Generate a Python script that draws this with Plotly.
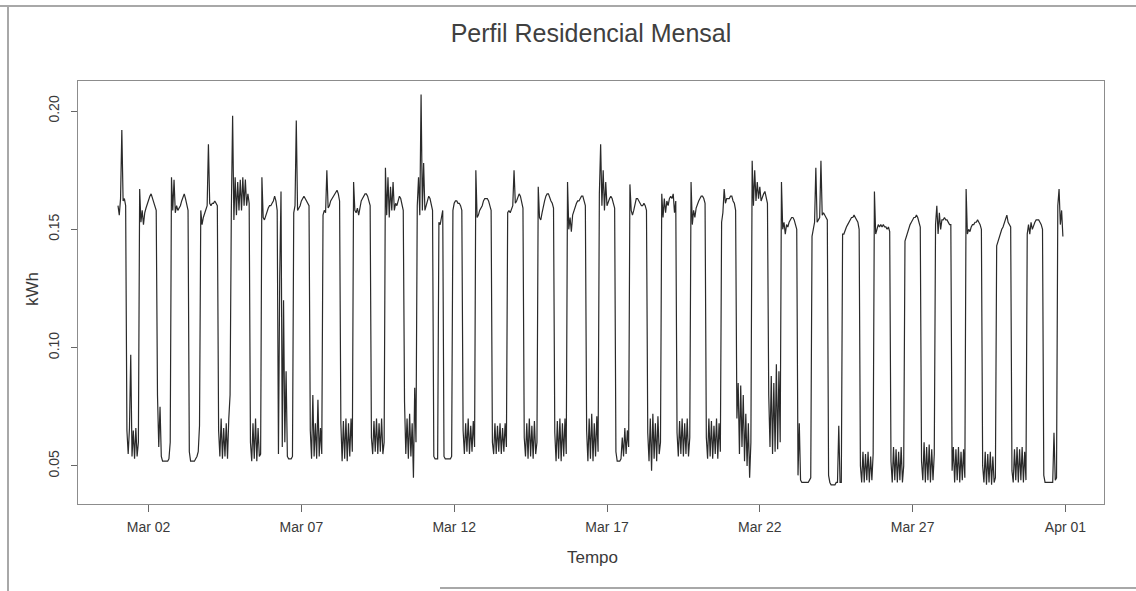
import pandas as pd
import plotly.graph_objects as go

# Hourly readings (kWh), one list per day
mar01 = [0.160,0.156,0.163,0.192,0.162,0.163,0.160,0.065,0.055,0.066,0.097,0.054,0.065,0.053,0.066,0.054,0.060,0.167,0.153,0.158,0.152,0.157,0.159,0.161]
mar02 = [0.162,0.164,0.165,0.163,0.161,0.160,0.158,0.080,0.058,0.075,0.054,0.052,0.052,0.052,0.052,0.052,0.053,0.060,0.172,0.158,0.171,0.157,0.160,0.158]
mar03 = [0.159,0.160,0.162,0.164,0.165,0.163,0.161,0.158,0.056,0.052,0.052,0.052,0.052,0.053,0.054,0.056,0.067,0.158,0.152,0.155,0.157,0.158,0.160,0.186]
mar04 = [0.161,0.160,0.161,0.161,0.162,0.161,0.160,0.065,0.054,0.070,0.053,0.066,0.054,0.068,0.053,0.070,0.080,0.158,0.198,0.154,0.172,0.156,0.170,0.158]
mar05 = [0.171,0.158,0.172,0.160,0.171,0.160,0.165,0.161,0.060,0.052,0.068,0.053,0.070,0.052,0.066,0.054,0.055,0.172,0.155,0.154,0.156,0.157,0.159,0.160]
mar06 = [0.160,0.161,0.162,0.164,0.162,0.158,0.055,0.130,0.166,0.058,0.120,0.060,0.090,0.054,0.053,0.053,0.053,0.054,0.157,0.160,0.196,0.158,0.159,0.160]
mar07 = [0.162,0.163,0.164,0.163,0.162,0.161,0.160,0.065,0.053,0.080,0.054,0.068,0.053,0.078,0.054,0.066,0.055,0.156,0.158,0.157,0.175,0.159,0.160,0.162]
mar08 = [0.163,0.164,0.165,0.166,0.1665,0.165,0.162,0.068,0.052,0.069,0.053,0.070,0.052,0.068,0.054,0.070,0.056,0.170,0.158,0.157,0.159,0.156,0.160,0.162]
mar09 = [0.163,0.164,0.165,0.165,0.164,0.162,0.160,0.062,0.055,0.069,0.056,0.070,0.055,0.068,0.056,0.070,0.055,0.060,0.176,0.156,0.172,0.155,0.168,0.158]
mar10 = [0.170,0.158,0.161,0.160,0.162,0.164,0.163,0.160,0.158,0.077,0.055,0.070,0.053,0.072,0.054,0.068,0.045,0.083,0.060,0.160,0.172,0.156,0.207,0.158]
mar11 = [0.178,0.158,0.160,0.162,0.164,0.163,0.161,0.158,0.054,0.053,0.053,0.053,0.153,0.152,0.155,0.158,0.054,0.053,0.053,0.053,0.053,0.053,0.054,0.158]
mar12 = [0.161,0.162,0.162,0.161,0.161,0.160,0.158,0.065,0.055,0.068,0.056,0.070,0.055,0.067,0.056,0.069,0.058,0.175,0.155,0.156,0.158,0.159,0.160,0.162]
mar13 = [0.163,0.163,0.163,0.162,0.160,0.158,0.060,0.055,0.068,0.055,0.067,0.056,0.068,0.055,0.066,0.056,0.068,0.058,0.157,0.158,0.157,0.159,0.160,0.175]
mar14 = [0.161,0.162,0.164,0.165,0.164,0.162,0.159,0.062,0.054,0.068,0.053,0.070,0.054,0.067,0.053,0.069,0.055,0.060,0.168,0.155,0.154,0.157,0.160,0.162]
mar15 = [0.164,0.165,0.165,0.163,0.162,0.161,0.159,0.064,0.052,0.069,0.053,0.070,0.052,0.068,0.054,0.070,0.055,0.170,0.150,0.155,0.149,0.156,0.158,0.160]
mar16 = [0.161,0.162,0.162,0.163,0.164,0.164,0.162,0.160,0.065,0.052,0.070,0.053,0.072,0.052,0.068,0.054,0.071,0.056,0.165,0.186,0.160,0.175,0.158,0.170]
mar17 = [0.160,0.162,0.163,0.164,0.163,0.161,0.159,0.056,0.052,0.052,0.052,0.053,0.062,0.054,0.066,0.055,0.065,0.058,0.169,0.158,0.156,0.158,0.161,0.163]
mar18 = [0.163,0.162,0.161,0.160,0.160,0.161,0.160,0.158,0.064,0.052,0.070,0.048,0.072,0.053,0.068,0.052,0.071,0.055,0.060,0.165,0.155,0.163,0.157,0.162]
mar19 = [0.160,0.163,0.164,0.163,0.165,0.157,0.162,0.064,0.054,0.069,0.055,0.070,0.054,0.068,0.055,0.070,0.054,0.062,0.170,0.152,0.158,0.155,0.159,0.161]
mar20 = [0.162,0.163,0.164,0.164,0.163,0.161,0.062,0.053,0.070,0.054,0.069,0.053,0.067,0.055,0.070,0.053,0.068,0.056,0.153,0.157,0.167,0.161,0.163,0.163]
mar21 = [0.163,0.164,0.164,0.162,0.161,0.158,0.070,0.085,0.055,0.084,0.058,0.080,0.052,0.072,0.050,0.068,0.045,0.060,0.179,0.160,0.175,0.162,0.170,0.163]
mar22 = [0.168,0.162,0.164,0.165,0.166,0.164,0.161,0.080,0.058,0.088,0.055,0.085,0.056,0.093,0.057,0.090,0.060,0.170,0.150,0.153,0.148,0.152,0.151,0.153]
mar23 = [0.154,0.155,0.155,0.154,0.152,0.150,0.046,0.068,0.044,0.043,0.043,0.043,0.043,0.043,0.043,0.044,0.045,0.147,0.150,0.153,0.176,0.153,0.154,0.155]
mar24 = [0.179,0.156,0.157,0.156,0.155,0.154,0.046,0.043,0.042,0.042,0.042,0.042,0.043,0.043,0.067,0.043,0.043,0.148,0.148,0.150,0.151,0.152,0.153,0.154]
mar25 = [0.155,0.155,0.156,0.155,0.154,0.153,0.150,0.050,0.043,0.056,0.043,0.055,0.044,0.056,0.043,0.054,0.044,0.055,0.166,0.148,0.150,0.152,0.151,0.152]
mar26 = [0.151,0.152,0.151,0.151,0.150,0.151,0.149,0.052,0.043,0.058,0.044,0.057,0.043,0.056,0.044,0.058,0.043,0.050,0.145,0.147,0.148,0.150,0.152,0.153]
mar27 = [0.154,0.155,0.155,0.156,0.155,0.153,0.151,0.052,0.044,0.060,0.043,0.058,0.044,0.059,0.043,0.057,0.044,0.055,0.152,0.160,0.148,0.157,0.150,0.154]
mar28 = [0.154,0.155,0.154,0.154,0.153,0.152,0.152,0.048,0.058,0.043,0.057,0.044,0.058,0.043,0.056,0.044,0.057,0.045,0.167,0.148,0.150,0.149,0.151,0.152]
mar29 = [0.152,0.153,0.153,0.154,0.153,0.152,0.150,0.050,0.043,0.056,0.042,0.055,0.043,0.056,0.042,0.054,0.043,0.045,0.143,0.145,0.147,0.148,0.150,0.151]
mar30 = [0.153,0.154,0.156,0.153,0.152,0.151,0.048,0.043,0.057,0.044,0.058,0.043,0.057,0.044,0.058,0.043,0.056,0.044,0.148,0.152,0.148,0.153,0.150,0.152]
mar31 = [0.153,0.154,0.154,0.154,0.153,0.152,0.150,0.046,0.043,0.043,0.043,0.043,0.043,0.043,0.043,0.064,0.044,0.045,0.160,0.167,0.152,0.158,0.147]

days = [mar01, mar02, mar03, mar04, mar05, mar06, mar07, mar08, mar09, mar10,
        mar11, mar12, mar13, mar14, mar15, mar16, mar17, mar18, mar19, mar20,
        mar21, mar22, mar23, mar24, mar25, mar26, mar27, mar28, mar29, mar30, mar31]

# Tick labels
tick_dates = ["2015-03-02", "2015-03-07", "2015-03-12", "2015-03-17",
              "2015-03-22", "2015-03-27", "2015-04-01"]
tick_labels = ["Mar 02", "Mar 07", "Mar 12", "Mar 17", "Mar 22", "Mar 27", "Apr 01"]
y_ticks = [0.05, 0.10, 0.15, 0.20]
y_tick_labels = ["0.05", "0.10", "0.15", "0.20"]

values = [v for d in days for v in d]
times = pd.date_range("2015-03-01 00:00", periods=len(values), freq="h")

FONT = "Liberation Sans, Arial, Helvetica, sans-serif"
TXT = "#3a3a3a"

fig = go.Figure(go.Scatter(x=times, y=values, mode="lines",
                           line=dict(color="#2a2a2a", width=1.2),
                           showlegend=False))

# plot area in pixels: x 78..1104, y 81..504
L, R, T, B = 78, 1104, 81, 504
W, H = 1136, 591
pw, ph = R - L, B - T

def px(x):
    return (x - L) / pw

def py(y):
    return (B - y) / ph

fig.update_layout(
    width=W, height=H,
    margin=dict(l=L, r=W - R, t=T, b=H - B, pad=0),
    paper_bgcolor="white", plot_bgcolor="white",
    font=dict(family=FONT, color=TXT, size=14),
    title=dict(text="Perfil Residencial Mensal", x=0.5, xref="paper",
               y=1 - 33 / H, yref="container", xanchor="center", yanchor="middle",
               font=dict(size=25, color="#404040", family=FONT)),
    xaxis=dict(type="date",
               range=["2015-02-27 16:35", "2015-04-02 06:17"],
               tickmode="array", tickvals=tick_dates, ticktext=tick_labels,
               ticks="outside", ticklen=7, tickcolor="#666", tickwidth=1,
               showgrid=False, zeroline=False,
               showline=True, mirror=True, linecolor="#8c8c8c", linewidth=1,
               tickfont=dict(size=14, color=TXT), ticklabelstandoff=3),
    yaxis=dict(range=[0.0339, 0.2127],
               tickmode="array", tickvals=y_ticks, ticktext=y_tick_labels,
               tickangle=-90,
               ticks="outside", ticklen=6, tickcolor="#666", tickwidth=1,
               showgrid=False, zeroline=False,
               showline=True, mirror=True, linecolor="#8c8c8c", linewidth=1,
               tickfont=dict(size=14, color=TXT), ticklabelstandoff=6),
)

fig.add_annotation(text="Tempo", xref="paper", yref="paper",
                   x=px(592), y=py(557), xanchor="center", yanchor="middle",
                   showarrow=False, font=dict(size=17, color=TXT, family=FONT))
fig.add_annotation(text="kWh", xref="paper", yref="paper",
                   x=px(32), y=py(289), xanchor="center", yanchor="middle",
                   textangle=-90, showarrow=False,
                   font=dict(size=17, color=TXT, family=FONT))

# scanned page frame
frame = dict(color="#a8a8a8", width=2)
fig.add_shape(type="line", xref="paper", yref="paper",
              x0=px(0), x1=px(W), y0=py(6), y1=py(6), line=frame)
fig.add_shape(type="line", xref="paper", yref="paper",
              x0=px(8), x1=px(8), y0=py(6), y1=py(H), line=frame)
fig.add_shape(type="line", xref="paper", yref="paper",
              x0=px(440), x1=px(W), y0=py(588), y1=py(588), line=frame)

fig.write_html("out.html",
               config={"displayModeBar": False},
               post_script="document.body.style.margin='0';document.body.style.overflow='hidden';")
